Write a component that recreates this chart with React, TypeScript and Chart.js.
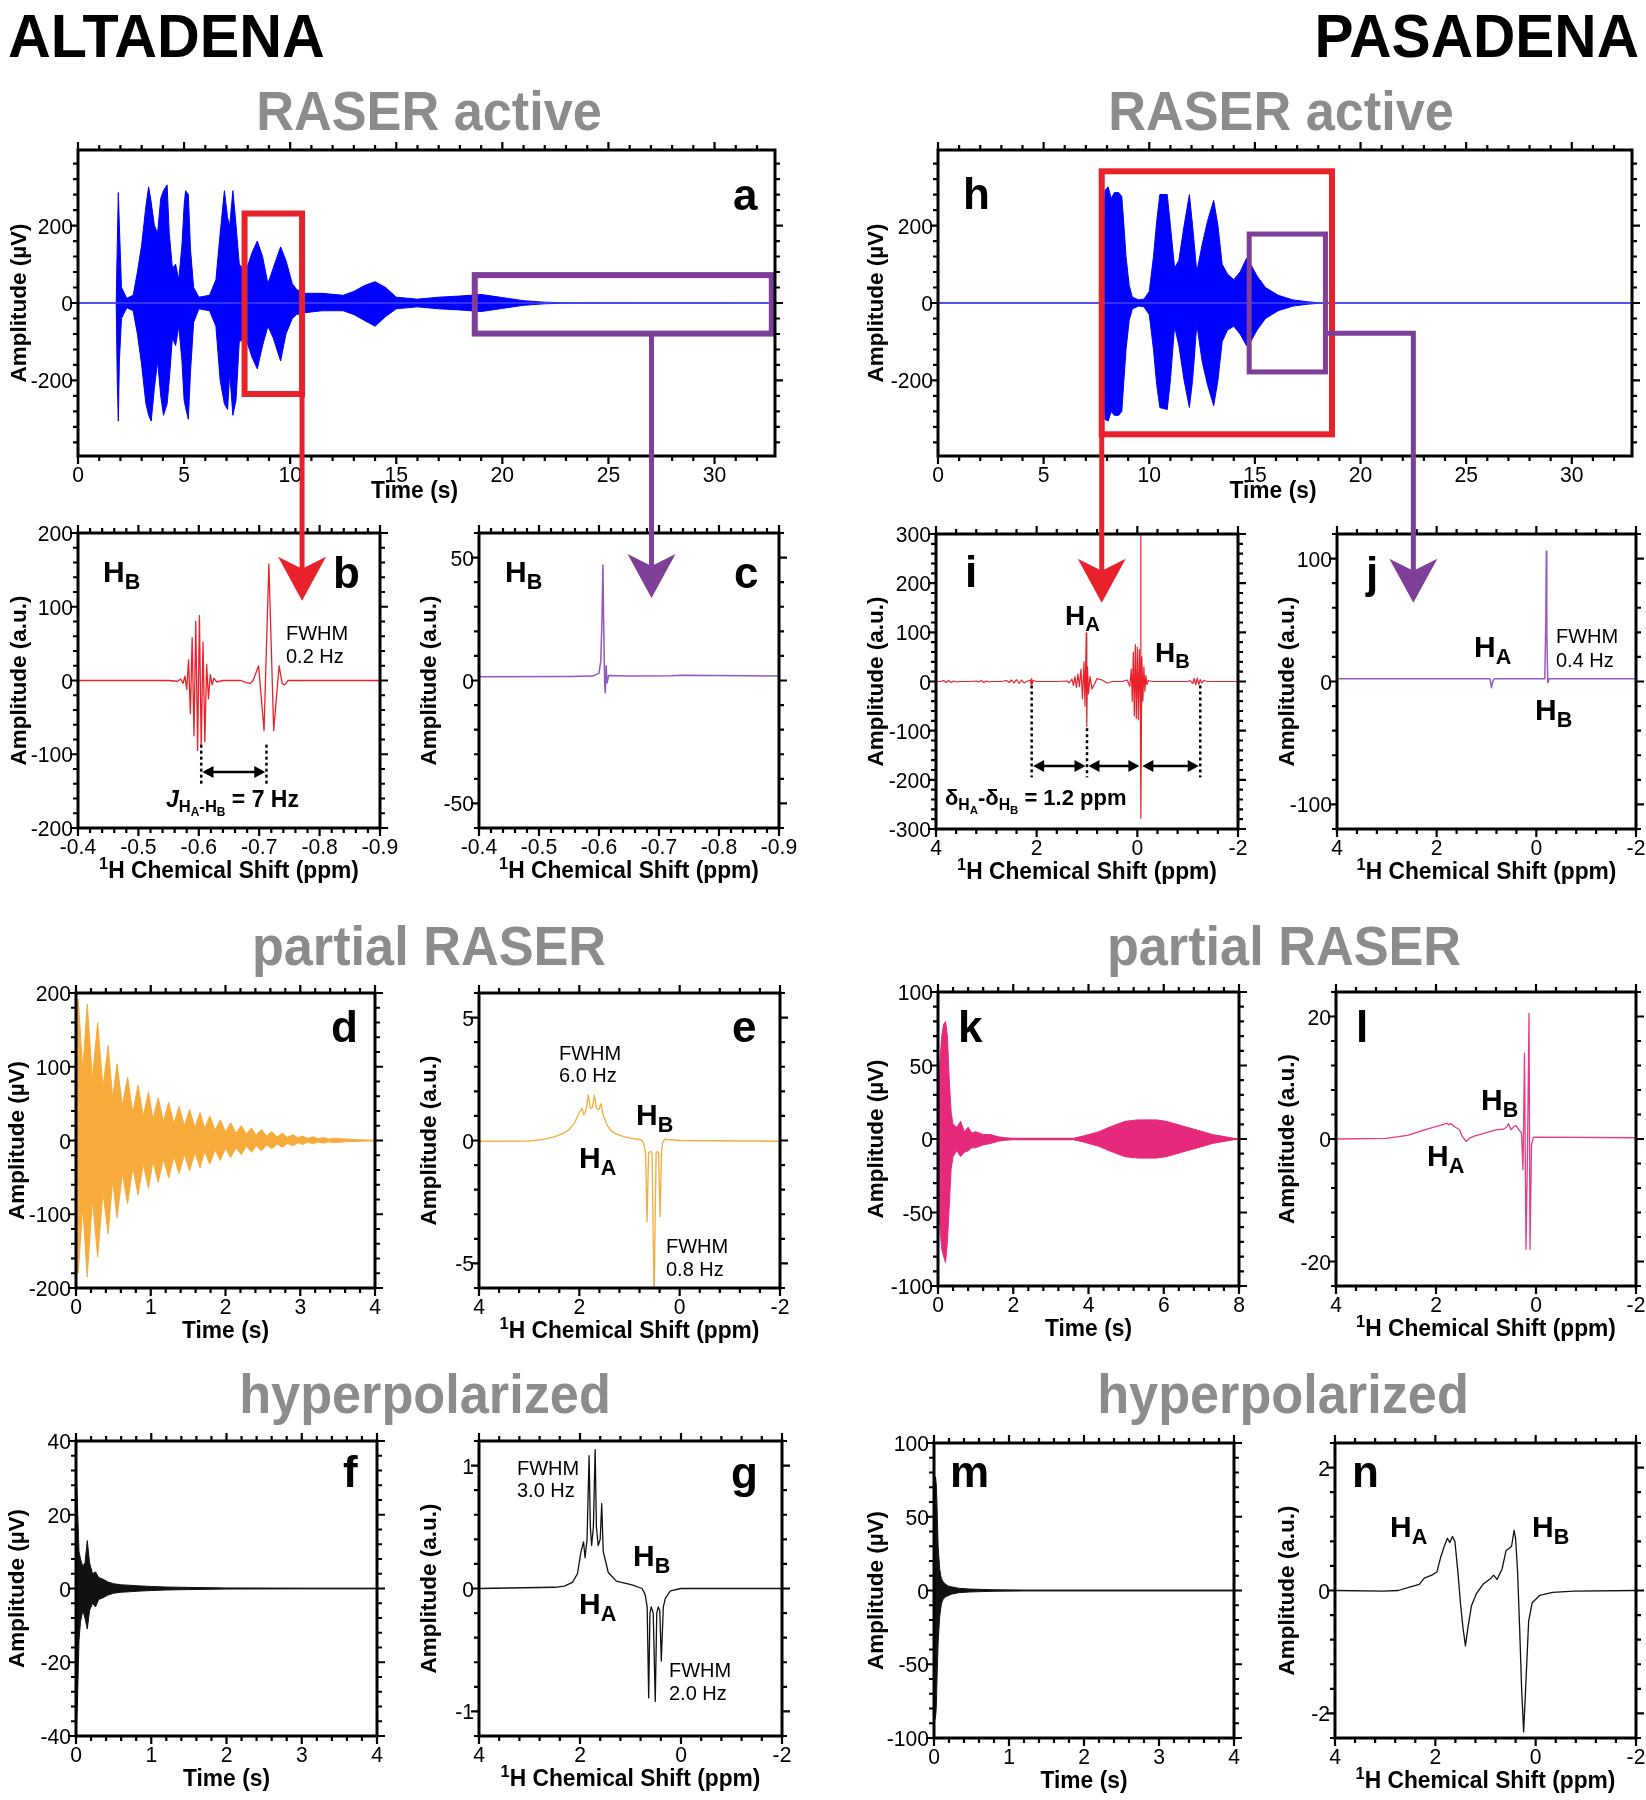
import React, { useEffect, useRef } from "react";
import { Chart, registerables } from "chart.js";

Chart.register(...registerables);

const FONT = "'Liberation Sans', Arial, Helvetica, sans-serif";
const RED = "#e8212b";
const PURPLE = "#7e3f98";
const GRAY = "#8c8c8c";
const BLUE = "#0000ff";
const ORANGE = "#f7ab3a";
const PINK = "#e6297b";
const BLACK = "#111111";

// ---------------- DATA ----------------
// panel a : RASER signal envelope (Altadena), time (s) / amplitude (uV)
const aTime = [0, 1.8, 1.85, 1.9, 1.95, 2.05, 2.3, 2.6, 2.8, 3.0, 3.2, 3.33, 3.45, 3.6, 3.75, 3.9, 4.03, 4.2, 4.3, 4.45, 4.6, 4.75, 4.9, 5.0, 5.07, 5.2, 5.3, 5.45, 5.7, 6.2, 6.5, 6.7, 6.9, 7.05, 7.15, 7.3, 7.45, 7.6, 7.9, 8.2, 8.45, 8.7, 8.95, 9.2, 9.55, 9.8, 10.1, 10.3, 10.7, 11.5, 12.5, 13.0, 13.5, 14.0, 14.5, 15.0, 16.0, 17.0, 18.0, 19.0, 20.0, 21.0, 22.0, 23.0, 32.85];
const aUpper = [0, 0, 150, 285, 200, 40, 12, 20, 80, 150, 250, 300, 260, 200, 180, 270, 290, 305, 180, 90, 100, 60, 150, 250, 290, 280, 140, 40, 15, 20, 60, 180, 290, 220, 200, 290, 200, 100, 80, 130, 160, 120, 50, 90, 145, 110, 50, 35, 25, 25, 20, 30, 45, 55, 40, 15, 10, 15, 18, 22, 14, 6, 2, 0.5, 0];
const aLower = [0, 0, -200, -305, -150, -40, -12, -20, -80, -160, -260, -290, -305, -220, -150, -240, -290, -260, -200, -90, -110, -60, -150, -250, -270, -300, -180, -50, -15, -20, -60, -200, -260, -275, -180, -290, -250, -100, -90, -140, -170, -110, -60, -90, -150, -80, -40, -30, -25, -20, -20, -30, -45, -60, -35, -15, -10, -15, -18, -22, -14, -6, -2, -0.5, 0];
const aXTicks = [0, 5, 10, 15, 20, 25, 30];
const aYTicks = [-200, 0, 200];

// panel h : RASER signal envelope (Pasadena)
const hTime = [0, 7.8, 7.85, 7.9, 8.05, 8.2, 8.35, 8.55, 8.7, 8.8, 8.9, 9.05, 9.2, 9.5, 9.75, 10.0, 10.2, 10.35, 10.5, 10.85, 11.0, 11.2, 11.4, 11.65, 11.9, 12.05, 12.25, 12.5, 12.75, 13.05, 13.25, 13.45, 13.7, 14.0, 14.3, 14.6, 14.8, 15.1, 15.5, 16.1, 16.8, 17.5, 18.0, 18.4, 32.85];
const hUpper = [0, 0, 200, 290, 300, 270, 285, 285, 275, 200, 120, 45, 15, 8, 10, 30, 120, 210, 280, 280, 200, 90, 110, 200, 280, 200, 80, 150, 210, 265, 200, 100, 75, 60, 80, 115, 100, 70, 40, 20, 8, 3, 1, 0, 0];
const hLower = [0, 0, -220, -300, -305, -280, -290, -290, -280, -200, -120, -45, -15, -8, -10, -30, -120, -210, -270, -275, -200, -60, -110, -200, -270, -200, -55, -150, -210, -265, -200, -100, -70, -60, -80, -110, -100, -70, -40, -20, -8, -3, -1, 0, 0];
const hXTicks = [0, 5, 10, 15, 20, 25, 30];
const hYTicks = [-200, 0, 200];

// panel b : spectrum (ppm / a.u.)
const bShift = [-0.40, -0.55, -0.565, -0.570, -0.574, -0.577, -0.580, -0.583, -0.586, -0.589, -0.592, -0.595, -0.598, -0.601, -0.604, -0.607, -0.610, -0.613, -0.616, -0.619, -0.622, -0.625, -0.630, -0.640, -0.670, -0.678, -0.685, -0.690, -0.699, -0.708, -0.716, -0.724, -0.733, -0.738, -0.742, -0.748, -0.90];
const bAmp = [0, 0, -1, 2, -4, 6, -12, 28, -45, 58, -75, 80, -95, 88, -90, 52, -83, 22, -25, 8, -6, 3, -2, 0, 0, -3, -4, 0, 20, -68, 158, -68, 20, -4, -6, 0, 0];
const bXTicks = [-0.4, -0.5, -0.6, -0.7, -0.8, -0.9];
const bYTicks = [-200, -100, 0, 100, 200];

// panel c
const cShift = [-0.4, -0.55, -0.59, -0.600, -0.603, -0.605, -0.6065, -0.608, -0.6095, -0.6105, -0.612, -0.6135, -0.616, -0.65, -0.72, -0.74, -0.9];
const cAmp = [1.5, 1.6, 1.8, 3, 8, 25, 47, 20, -2, -5, 6, -1, 2, 1.8, 1.9, 2.1, 1.8];
const cXTicks = [-0.4, -0.5, -0.6, -0.7, -0.8, -0.9];
const cYTicks = [-50, 0, 50];

// panel i
const iShift = [4.0, 3.9, 3.85, 3.80, 3.75, 3.70, 3.65, 3.60, 3.5, 3.3, 3.2, 3.15, 3.1, 3.05, 3.0, 2.95, 2.9, 2.7, 2.6, 2.55, 2.5, 2.45, 2.4, 2.35, 2.3, 2.25, 2.2, 2.13, 2.11, 2.10, 2.09, 2.07, 2.0, 1.6, 1.4, 1.35, 1.3, 1.27, 1.24, 1.21, 1.18, 1.15, 1.12, 1.09, 1.06, 1.04, 1.015, 1.005, 0.99, 0.97, 0.94, 0.9, 0.85, 0.8, 0.7, 0.6, 0.5, 0.3, 0.2, 0.15, 0.12, 0.10, 0.08, 0.06, 0.04, 0.02, 0.0, -0.02, -0.04, -0.06, -0.068, -0.072, -0.09, -0.11, -0.13, -0.15, -0.17, -0.19, -0.22, -0.3, -1.0, -1.05, -1.1, -1.13, -1.16, -1.19, -1.22, -1.25, -1.28, -1.32, -1.4, -2.0];
const iAmp = [0, 0, 2, -2, 2, -2, 1, -1, 0, 0, 1, -1, 2, -2, 1, -1, 0, 0, 2, -2, 3, -3, 4, -4, 3, -3, 0, 3, -6, 6, -5, 2, 0, 0, 1, -3, 5, -8, 10, -12, 15, -10, 25, -35, 40, -50, 99, -92, 30, -25, 10, -15, -5, 6, 3, -3, 0, 0, 3, -10, 25, -40, 60, -70, 75, -75, 70, -78, 65, -60, 320, -278, 50, -40, 30, -20, 12, -6, 2, 0, 0, 2, -4, 6, -7, 7, -6, 4, -3, 2, 0, 0];
const iXTicks = [4, 2, 0, -2];
const iYTicks = [-300, -200, -100, 0, 100, 200, 300];

// panel j
const jShift = [4, 1.0, 0.93, 0.90, 0.88, 0.85, 0.3, -0.17, -0.19, -0.2, -0.21, -0.23, -0.26, -2];
const jAmp = [2.2, 2.3, 2.2, -5, -1, 2.2, 2.3, 2.3, 50, 106, 40, -1, 2.3, 2.2];
const jXTicks = [4, 2, 0, -2];
const jYTicks = [-100, 0, 100];

// panel d : partial RASER FID envelope (Altadena)
const dTime = [0, 0.03, 0.09, 0.15, 0.22, 0.29, 0.36, 0.43, 0.49, 0.55, 0.62, 0.69, 0.76, 0.83, 0.90, 0.97, 1.03, 1.10, 1.17, 1.24, 1.31, 1.38, 1.45, 1.52, 1.59, 1.66, 1.72, 1.79, 1.86, 1.93, 2.00, 2.07, 2.14, 2.21, 2.28, 2.35, 2.41, 2.48, 2.55, 2.62, 2.69, 2.76, 2.83, 2.90, 2.97, 3.03, 3.10, 3.17, 3.24, 3.31, 3.38, 3.45, 3.6, 3.8, 4.0];
const dUpper = [170, 192, 95, 185, 85, 160, 72, 129, 58, 104, 47, 86, 38, 75, 33, 66, 29, 58, 26, 52, 23, 46, 20, 42, 18, 38, 16, 33, 14, 28, 12, 24, 10, 20, 9, 17, 7, 15, 6, 12, 5, 10, 4, 8, 3.5, 6, 3, 5, 2.5, 4, 2, 3, 2, 1, 0.5];
const dLower = [-160, -180, -90, -185, -80, -158, -70, -127, -55, -105, -45, -86, -37, -74, -32, -65, -28, -57, -25, -51, -22, -45, -19, -41, -17, -37, -15, -32, -13, -27, -11, -23, -10, -19, -8, -16, -7, -14, -6, -11, -5, -9, -4, -7, -3, -5.5, -2.5, -4.5, -2, -3.5, -1.8, -2.8, -1.8, -1, -0.5];
const dXTicks = [0, 1, 2, 3, 4];
const dYTicks = [-200, -100, 0, 100, 200];

// panel e
const eShift = [4, 3.0, 2.72, 2.5, 2.31, 2.2, 2.1, 2.0, 1.95, 1.91, 1.87, 1.82, 1.78, 1.74, 1.70, 1.66, 1.61, 1.57, 1.52, 1.44, 1.36, 1.28, 1.1, 0.98, 0.77, 0.72, 0.68, 0.65, 0.62, 0.58, 0.55, 0.51, 0.47, 0.44, 0.42, 0.39, 0.36, 0.34, 0.30, 0, -2];
const eAmp = [-0.03, -0.02, 0.05, 0.15, 0.3, 0.45, 0.7, 1.15, 1.31, 1.05, 1.2, 1.85, 1.3, 1.35, 1.85, 1.3, 1.25, 1.5, 1.0, 0.6, 0.38, 0.28, 0.15, 0.1, 0.03, -0.1, -0.5, -3.3, -0.5, -0.45, -0.5, -6.5, -0.5, -0.45, -0.5, -3.1, -0.4, -0.1, 0.05, 0, -0.03];
const eXTicks = [4, 2, 0, -2];
const eYTicks = [-5, 0, 5];

// panel k
const kTime = [0, 0.02, 0.05, 0.1, 0.15, 0.2, 0.25, 0.3, 0.35, 0.4, 0.5, 0.6, 0.7, 0.8, 0.9, 1.0, 1.2, 1.4, 1.6, 1.8, 2.0, 3.6, 3.86, 4.28, 4.55, 4.97, 5.31, 5.8, 6.07, 6.48, 6.9, 7.3, 7.86, 8];
const kUpper = [10, 35, 52, 70, 78, 80, 70, 40, 18, 10, 8, 12, 5, 8, 4, 5, 3, 3, 1.5, 0.8, 0.5, 0.5, 2, 5, 8, 12, 13, 13, 12, 9, 6, 3, 0.5, 0];
const kLower = [-10, -35, -60, -75, -80, -84, -70, -45, -20, -12, -8, -12, -9, -8, -6, -6, -4, -3, -1.5, -0.8, -0.5, -0.5, -2, -5, -8, -12, -13, -13, -12, -9, -6, -3, -0.5, 0];
const kXTicks = [0, 2, 4, 6, 8];
const kYTicks = [-100, -50, 0, 50, 100];

// panel l
const lShift = [4, 3.0, 2.57, 2.26, 1.94, 1.85, 1.78, 1.75, 1.70, 1.63, 1.53, 1.48, 1.40, 1.32, 1.22, 1.01, 0.80, 0.65, 0.58, 0.55, 0.50, 0.45, 0.40, 0.34, 0.29, 0.26, 0.23, 0.20, 0.17, 0.14, 0.12, 0.09, 0.05, -2];
const lAmp = [0, 0.1, 0.6, 1.4, 2.2, 2.4, 2.6, 2.3, 2.5, 2.0, 1.5, 0.5, -0.4, 0.2, 0.5, 1.0, 1.5, 1.6, 2.0, 2.5, 1.5, 2.0, 2.2, 1.5, 1.0, -5, 14, -18, -2, 20.5, -18, -1, 0.3, 0.2];
const lXTicks = [4, 2, 0, -2];
const lYTicks = [-20, 0, 20];

// panel f
const fTime = [0, 0.005, 0.02, 0.04, 0.06, 0.09, 0.12, 0.15, 0.18, 0.22, 0.26, 0.30, 0.36, 0.42, 0.5, 0.6, 0.7, 0.85, 1.0, 1.2, 1.5, 2.0, 3.0, 4.0];
const fUpper = [0, 31, 22, 10, 8, 6, 7, 13, 7, 4, 4.5, 3, 2.5, 1.8, 1.3, 1.0, 0.9, 0.7, 0.55, 0.4, 0.3, 0.15, 0.1, 0.1];
const fLower = [0, -38, -30, -14, -9, -6, -8, -11, -6, -4, -5, -3, -2.5, -1.8, -1.3, -1.0, -0.9, -0.7, -0.55, -0.4, -0.3, -0.15, -0.1, -0.1];
const fXTicks = [0, 1, 2, 3, 4];
const fYTicks = [-40, -20, 0, 20, 40];

// panel g
const gShift = [4, 2.5, 2.31, 2.15, 2.05, 1.98, 1.93, 1.90, 1.86, 1.82, 1.795, 1.77, 1.735, 1.70, 1.675, 1.64, 1.60, 1.57, 1.54, 1.51, 1.44, 1.28, 0.97, 0.77, 0.71, 0.67, 0.64, 0.615, 0.59, 0.55, 0.51, 0.48, 0.45, 0.42, 0.39, 0.35, 0.31, 0.21, 0, -2];
const gAmp = [0, 0.01, 0.02, 0.05, 0.12, 0.3, 0.38, 0.25, 0.4, 1.08, 0.5, 0.35, 0.5, 1.13, 0.5, 0.35, 0.4, 0.69, 0.3, 0.25, 0.13, 0.06, 0.03, 0, -0.05, -0.15, -0.89, -0.2, -0.15, -0.2, -0.92, -0.2, -0.15, -0.18, -0.59, -0.15, -0.08, -0.02, 0, 0];
const gXTicks = [4, 2, 0, -2];
const gYTicks = [-1, 0, 1];

// panel m
const mTime = [0, 0.007, 0.02, 0.03, 0.04, 0.055, 0.075, 0.09, 0.1, 0.12, 0.16, 0.19, 0.23, 0.33, 0.47, 0.8, 1.2, 4];
const mUpper = [0, 70, 77, 72, 58, 30, 15, 10, 8, 6, 4, 3, 2.5, 1.5, 1, 0.5, 0.3, 0.3];
const mLower = [0, -88, -86, -80, -60, -35, -18, -12, -9, -6, -4, -3.5, -2.5, -1.5, -1, -0.5, -0.3, -0.3];
const mXTicks = [0, 1, 2, 3, 4];
const mYTicks = [-100, -50, 0, 50, 100];

// panel n
const nShift = [4, 3.04, 2.74, 2.53, 2.32, 2.22, 2.07, 1.97, 1.89, 1.83, 1.76, 1.71, 1.66, 1.61, 1.55, 1.50, 1.45, 1.40, 1.35, 1.28, 1.18, 1.05, 0.89, 0.84, 0.77, 0.67, 0.59, 0.54, 0.48, 0.43, 0.40, 0.36, 0.32, 0.28, 0.24, 0.20, 0.14, 0.07, -0.08, -0.34, -0.76, -2];
const nAmp = [0, -0.01, 0.0, 0.05, 0.1, 0.2, 0.25, 0.3, 0.55, 0.7, 0.85, 0.78, 0.88, 0.8, 0.3, -0.2, -0.6, -0.9, -0.6, -0.25, -0.05, 0.1, 0.2, 0.25, 0.18, 0.35, 0.65, 0.68, 0.72, 0.98, 0.85, 0.3, -0.6, -1.6, -2.3, -1.6, -0.5, -0.2, -0.08, -0.03, -0.01, 0];
const nXTicks = [4, 2, 0, -2];
const nYTicks = [-2, 0, 2];

// ---------------- LAYOUT / STYLE ----------------
const SHIFT_TITLE = "^{1}H Chemical Shift (ppm)";
const TIME_TITLE = "Time (s)";
const UV = "Amplitude (µV)";
const AU = "Amplitude (a.u.)";

const L = (t, x, y) => ({ t, x, y, size: 44, bold: true });
const H = (t, x, y, size = 30) => ({ t, x, y, size, bold: true });
const R = (t, x, y) => ({ t, x, y, size: 20, bold: false });

const PANELS: any[] = [
  {
    id: "a", rect: [78, 150, 775, 456],
    x: { min: 0, max: 32.85, major: aXTicks, minor: 1 }, y: { min: -395, max: 395, major: aYTicks, minor: 40 },
    xTitle: TIME_TITLE, xTitleDx: -12, xTitleDy: 42, yTitle: UV, yTitleX: 26,
    series: [{ kind: "band", xs: aTime, up: aUpper, lo: aLower, color: BLUE, base: "#6464f0" }],
    boxes: [
      { x0: 7.85, x1: 10.56, y0: -235, y1: 231, color: RED, w: 6 },
      { x0: 18.7, x1: 32.7, y0: -79, y1: 72, color: PURPLE, w: 6 },
    ],
    texts: [L("a", 733, 210)],
  },
  {
    id: "h", rect: [938, 150, 1632, 456],
    x: { min: 0, max: 32.85, major: hXTicks, minor: 1 }, y: { min: -395, max: 395, major: hYTicks, minor: 40 },
    xTitle: TIME_TITLE, xTitleDx: -12, xTitleDy: 42, yTitle: UV, yTitleX: 883,
    series: [{ kind: "band", xs: hTime, up: hUpper, lo: hLower, color: BLUE, base: "#6464f0" }],
    boxes: [
      { x0: 7.75, x1: 18.65, y0: -339, y1: 340, color: RED, w: 6 },
      { x0: 14.73, x1: 18.34, y0: -178, y1: 178, color: PURPLE, w: 5 },
    ],
    texts: [L("h", 963, 209)],
  },
  {
    id: "b", rect: [78, 533, 380, 828],
    x: { min: -0.9, max: -0.4, reverse: true, major: bXTicks, minor: 0.02 }, y: { min: -200, max: 200, major: bYTicks, minor: 20 },
    xTitle: SHIFT_TITLE, yTitle: AU, yTitleX: 26,
    series: [{ kind: "line", xs: bShift, ys: bAmp, color: RED, width: 1.3 }],
    dotted: [{ x: -0.604, y0: -87, y1: -144 }, { x: -0.712, y0: -87, y1: -144 }],
    arrows: [{ x0: -0.606, x1: -0.710, y: -124 }],
    texts: [H("H_{B}", 103, 582), L("b", 333, 588), R("FWHM", 286, 640), R("0.2 Hz", 286, 663),
      { t: "|J|_{H_{A}-H_{B}} = 7 Hz", x: 166, y: 807, size: 23, bold: true }],
  },
  {
    id: "c", rect: [479, 533, 779, 828],
    x: { min: -0.9, max: -0.4, reverse: true, major: cXTicks, minor: 0.02 }, y: { min: -60, max: 60, major: cYTicks, minor: 10 },
    xTitle: SHIFT_TITLE, yTitle: AU, yTitleX: 436,
    series: [{ kind: "line", xs: cShift, ys: cAmp, color: "#9457bb", width: 1.5 }],
    texts: [H("H_{B}", 505, 582), L("c", 734, 588)],
  },
  {
    id: "i", rect: [936, 534, 1238, 829],
    x: { min: -2, max: 4, reverse: true, major: iXTicks, minor: 0.4 }, y: { min: -300, max: 300, major: iYTicks, minor: 20 },
    xTitle: SHIFT_TITLE, yTitle: AU, yTitleX: 883,
    series: [{ kind: "line", xs: iShift, ys: iAmp, color: RED, width: 1.2 }],
    dotted: [{ x: 2.1, y0: -8, y1: -195 }, { x: 1.0, y0: -95, y1: -195 }, { x: -1.25, y0: -8, y1: -195 }],
    arrows: [{ x0: 2.07, x1: 1.03, y: -172 }, { x0: 0.97, x1: -0.04, y: -172 }, { x0: -0.10, x1: -1.22, y: -172 }],
    texts: [L("i", 965, 587), H("H_{A}", 1065, 625, 28), H("H_{B}", 1155, 662, 28),
      { t: "δ_{H_{A}}-δ_{H_{B}} = 1.2 ppm", x: 945, y: 805, size: 22, bold: true }],
  },
  {
    id: "j", rect: [1337, 534, 1636, 829],
    x: { min: -2, max: 4, reverse: true, major: jXTicks, minor: 0.4 }, y: { min: -120, max: 120, major: jYTicks, minor: 20 },
    xTitle: SHIFT_TITLE, yTitle: AU, yTitleX: 1294,
    series: [{ kind: "line", xs: jShift, ys: jAmp, color: "#9a5cc2", width: 1.5 }],
    texts: [L("j", 1366, 588), H("H_{A}", 1474, 657), H("H_{B}", 1535, 720), R("FWHM", 1556, 643), R("0.4 Hz", 1556, 667)],
  },
  {
    id: "d", rect: [76, 993, 375, 1288],
    x: { min: 0, max: 4, major: dXTicks, minor: 0.2 }, y: { min: -200, max: 200, major: dYTicks, minor: 20 },
    xTitle: TIME_TITLE, yTitle: UV, yTitleX: 24,
    series: [{ kind: "band", xs: dTime, up: dUpper, lo: dLower, color: ORANGE, base: ORANGE }],
    texts: [L("d", 331, 1042)],
  },
  {
    id: "e", rect: [479, 993, 780, 1288],
    x: { min: -2, max: 4, reverse: true, major: eXTicks, minor: 0.4 }, y: { min: -6, max: 6, major: eYTicks, minor: 1 },
    xTitle: SHIFT_TITLE, yTitle: AU, yTitleX: 436,
    series: [{ kind: "line", xs: eShift, ys: eAmp, color: ORANGE, width: 1.3 }],
    texts: [L("e", 732, 1042), R("FWHM", 559, 1060), R("6.0 Hz", 559, 1082), H("H_{B}", 636, 1125), H("H_{A}", 579, 1168),
      R("FWHM", 666, 1253), R("0.8 Hz", 666, 1276)],
  },
  {
    id: "k", rect: [938, 992, 1239, 1286],
    x: { min: 0, max: 8, major: kXTicks, minor: 0.4 }, y: { min: -100, max: 100, major: kYTicks, minor: 10 },
    xTitle: TIME_TITLE, yTitle: UV, yTitleX: 883,
    series: [{ kind: "band", xs: kTime, up: kUpper, lo: kLower, color: PINK, base: PINK }],
    texts: [L("k", 958, 1042)],
  },
  {
    id: "l", rect: [1336, 992, 1636, 1286],
    x: { min: -2, max: 4, reverse: true, major: lXTicks, minor: 0.4 }, y: { min: -24, max: 24, major: lYTicks, minor: 4 },
    xTitle: SHIFT_TITLE, yTitle: AU, yTitleX: 1294,
    series: [{ kind: "line", xs: lShift, ys: lAmp, color: "#e43c82", width: 1.3 }],
    texts: [L("l", 1356, 1042), H("H_{B}", 1481, 1110), H("H_{A}", 1427, 1166)],
  },
  {
    id: "f", rect: [76, 1441, 377, 1736],
    x: { min: 0, max: 4, major: fXTicks, minor: 0.2 }, y: { min: -40, max: 40, major: fYTicks, minor: 4 },
    xTitle: TIME_TITLE, yTitle: UV, yTitleX: 24,
    series: [{ kind: "band", xs: fTime, up: fUpper, lo: fLower, color: BLACK, base: BLACK }],
    texts: [L("f", 343, 1487)],
  },
  {
    id: "g", rect: [479, 1441, 782, 1736],
    x: { min: -2, max: 4, reverse: true, major: gXTicks, minor: 0.4 }, y: { min: -1.2, max: 1.2, major: gYTicks, minor: 0.2 },
    xTitle: SHIFT_TITLE, yTitle: AU, yTitleX: 436,
    series: [{ kind: "line", xs: gShift, ys: gAmp, color: BLACK, width: 1.3 }],
    texts: [L("g", 731, 1488), R("FWHM", 517, 1475), R("3.0 Hz", 517, 1497), H("H_{B}", 633, 1566), H("H_{A}", 579, 1614),
      R("FWHM", 669, 1677), R("2.0 Hz", 669, 1700)],
  },
  {
    id: "m", rect: [934, 1443, 1234, 1738],
    x: { min: 0, max: 4, major: mXTicks, minor: 0.2 }, y: { min: -100, max: 100, major: mYTicks, minor: 10 },
    xTitle: TIME_TITLE, yTitle: UV, yTitleX: 883,
    series: [{ kind: "band", xs: mTime, up: mUpper, lo: mLower, color: BLACK, base: BLACK }],
    texts: [L("m", 950, 1487)],
  },
  {
    id: "n", rect: [1335, 1443, 1636, 1738],
    x: { min: -2, max: 4, reverse: true, major: nXTicks, minor: 0.4 }, y: { min: -2.4, max: 2.4, major: nYTicks, minor: 0.4 },
    xTitle: SHIFT_TITLE, yTitle: AU, yTitleX: 1294,
    series: [{ kind: "line", xs: nShift, ys: nAmp, color: BLACK, width: 1.3 }],
    texts: [L("n", 1352, 1487), H("H_{A}", 1390, 1537), H("H_{B}", 1532, 1537)],
  },
];

// connectors from the boxed regions to the spectra (data coords of source / target panels)
const CONNECTORS = [
  { color: RED, from: "a", fx: 10.56, fy: -235, to: "b", ty: 108 },
  { color: PURPLE, from: "a", fx: 27.03, fy: -79, to: "c", ty: 33.6 },
  { color: RED, from: "h", fx: 7.75, fy: -339, to: "i", ty: 160 },
  { color: PURPLE, from: "h", fx: 18.34, fy: -78, via: 22.5, to: "j", ty: 64 },
];

const TITLES = [
  { text: "ALTADENA", x: 8, y: 57, size: 62, color: "#000", align: "left", sx: 0.955 },
  { text: "PASADENA", x: 1639, y: 57, size: 62, color: "#000", align: "right", sx: 0.945 },
  { text: "RASER active", x: 429, y: 131, size: 55, color: GRAY, align: "center", sx: 0.95 },
  { text: "RASER active", x: 1281, y: 131, size: 55, color: GRAY, align: "center", sx: 0.95 },
  { text: "partial RASER", x: 429, y: 966, size: 55, color: GRAY, align: "center", sx: 0.95 },
  { text: "partial RASER", x: 1284, y: 966, size: 55, color: GRAY, align: "center", sx: 0.95 },
  { text: "hyperpolarized", x: 425, y: 1414, size: 55, color: GRAY, align: "center", sx: 0.95 },
  { text: "hyperpolarized", x: 1283, y: 1414, size: 55, color: GRAY, align: "center", sx: 0.95 },
];

// ---------------- helpers ----------------
function geom(p) {
  const [l, t, r, b] = p.rect;
  const cx = Math.max(0, l - 82);
  const cy = Math.max(0, t - 30);
  const cw = Math.min(1646, r + 26) - cx;
  const ch = b + 64 - cy;
  return { cx, cy, cw, ch, pad: { left: l - cx, top: t - cy, right: cx + cw - r, bottom: cy + ch - b } };
}

function parseRich(s) {
  const out = [];
  const stack = [{ lvl: 0, sup: false }];
  let it = false;
  let buf = "";
  const cur = () => stack[stack.length - 1];
  const flush = () => {
    if (buf) { out.push({ t: buf, lvl: cur().lvl, sup: cur().sup, it }); buf = ""; }
  };
  for (let i = 0; i < s.length; i++) {
    const ch = s[i];
    if ((ch === "_" || ch === "^") && s[i + 1] === "{") { flush(); stack.push({ lvl: cur().lvl + 1, sup: ch === "^" }); i++; }
    else if (ch === "}" && stack.length > 1) { flush(); stack.pop(); }
    else if (ch === "|") { flush(); it = !it; }
    else buf += ch;
  }
  flush();
  return out;
}

function drawRich(ctx, s, x, y, o) {
  const segs = parseRich(s);
  const fontFor = (g) => `${g.it ? "italic " : ""}${o.bold ? "bold " : ""}${(o.size * Math.pow(0.72, g.lvl)).toFixed(1)}px ${FONT}`;
  let w = 0;
  const ws = segs.map((g) => { ctx.font = fontFor(g); const m = ctx.measureText(g.t).width; w += m; return m; });
  const sx = o.sx ?? 1;
  ctx.save();
  ctx.translate(x, y);
  if (o.rot) ctx.rotate(o.rot);
  ctx.scale(sx, 1);
  let cx = o.align === "center" ? -w / 2 : o.align === "right" ? -w : 0;
  ctx.fillStyle = o.color ?? "#000";
  ctx.textBaseline = "alphabetic";
  ctx.textAlign = "left";
  segs.forEach((g, k) => {
    ctx.font = fontFor(g);
    const dy = g.lvl === 0 ? 0 : g.sup ? -0.38 * o.size : g.lvl === 1 ? 0.22 * o.size : 0.4 * o.size;
    ctx.fillText(g.t, cx, dy);
    cx += ws[k];
  });
  ctx.restore();
}

function tickVals(ax) {
  const out = [];
  const lo = Math.min(ax.min, ax.max), hi = Math.max(ax.min, ax.max);
  const k0 = Math.ceil(lo / ax.minor - 1e-6), k1 = Math.floor(hi / ax.minor + 1e-6);
  for (let k = k0; k <= k1; k++) out.push(k * ax.minor);
  return out;
}

function drawDoubleArrow(ctx, x0, x1, y) {
  const dir = x1 > x0 ? 1 : -1;
  const hl = 11, hw = 6;
  ctx.strokeStyle = "#000"; ctx.fillStyle = "#000"; ctx.lineWidth = 2.6;
  ctx.beginPath(); ctx.moveTo(x0 + dir * hl * 0.8, y); ctx.lineTo(x1 - dir * hl * 0.8, y); ctx.stroke();
  ctx.beginPath(); ctx.moveTo(x0, y); ctx.lineTo(x0 + dir * hl, y - hw); ctx.lineTo(x0 + dir * hl, y + hw); ctx.closePath(); ctx.fill();
  ctx.beginPath(); ctx.moveTo(x1, y); ctx.lineTo(x1 - dir * hl, y - hw); ctx.lineTo(x1 - dir * hl, y + hw); ctx.closePath(); ctx.fill();
}

function framePlugin(p, g) {
  return {
    id: "frame_" + p.id,
    afterDraw(chart) {
      const ctx = chart.ctx;
      const { left, right, top, bottom } = chart.chartArea;
      const xs = chart.scales.x, ys = chart.scales.y;
      const X = (v) => xs.getPixelForValue(v);
      const Y = (v) => ys.getPixelForValue(v);
      ctx.save();
      (p.boxes || []).forEach((bx) => {
        ctx.strokeStyle = bx.color; ctx.lineWidth = bx.w; ctx.lineJoin = "miter";
        const x0 = X(bx.x0), x1 = X(bx.x1), y0 = Y(bx.y0), y1 = Y(bx.y1);
        ctx.strokeRect(Math.min(x0, x1), Math.min(y0, y1), Math.abs(x1 - x0), Math.abs(y1 - y0));
      });
      (p.dotted || []).forEach((d) => {
        ctx.strokeStyle = "#000"; ctx.lineWidth = 2.5; ctx.setLineDash([3, 3]);
        ctx.beginPath(); ctx.moveTo(X(d.x), Y(d.y0)); ctx.lineTo(X(d.x), Y(d.y1)); ctx.stroke();
        ctx.setLineDash([]);
      });
      (p.arrows || []).forEach((a) => drawDoubleArrow(ctx, X(a.x0), X(a.x1), Y(a.y)));

      // outward ticks on all four sides
      ctx.strokeStyle = "#000"; ctx.lineWidth = 2.2; ctx.lineCap = "butt";
      ctx.beginPath();
      const inX = (x) => x >= left - 0.6 && x <= right + 0.6;
      const inY = (y) => y >= top - 0.6 && y <= bottom + 0.6;
      tickVals(p.x).forEach((v) => { const x = X(v); if (!inX(x)) return; ctx.moveTo(x, bottom); ctx.lineTo(x, bottom + 5); ctx.moveTo(x, top); ctx.lineTo(x, top - 5); });
      p.x.major.forEach((v) => { const x = X(v); if (!inX(x)) return; ctx.moveTo(x, bottom); ctx.lineTo(x, bottom + 8); ctx.moveTo(x, top); ctx.lineTo(x, top - 8); });
      tickVals(p.y).forEach((v) => { const y = Y(v); if (!inY(y)) return; ctx.moveTo(left, y); ctx.lineTo(left - 5, y); ctx.moveTo(right, y); ctx.lineTo(right + 5, y); });
      p.y.major.forEach((v) => { const y = Y(v); if (!inY(y)) return; ctx.moveTo(left, y); ctx.lineTo(left - 8, y); ctx.moveTo(right, y); ctx.lineTo(right + 8, y); });
      ctx.stroke();
      ctx.lineWidth = 3;
      ctx.strokeRect(left, top, right - left, bottom - top);

      // tick labels
      p.x.major.forEach((v) => drawRich(ctx, String(v), X(v), bottom + 26, { size: 22, align: "center", sx: 0.96 }));
      p.y.major.forEach((v) => drawRich(ctx, String(v), left - 5, Y(v) + 8, { size: 22, align: "right", sx: 0.96 }));

      // axis titles
      drawRich(ctx, p.xTitle, (left + right) / 2 + (p.xTitleDx || 0), bottom + (p.xTitleDy || 50), { size: 23.5, bold: true, align: "center", sx: 0.97 });
      drawRich(ctx, p.yTitle, p.yTitleX - g.cx, (top + bottom) / 2, { size: 22.5, bold: true, align: "center", rot: -Math.PI / 2 });

      // annotations
      (p.texts || []).forEach((t) => drawRich(ctx, t.t, t.x - g.cx, t.y - g.cy, { size: t.size, bold: t.bold, align: "left", sx: t.sx ?? 1 }));
      ctx.restore();
    },
  };
}

function buildDatasets(p) {
  const ds = [];
  p.series.forEach((s) => {
    if (s.kind === "band") {
      const n = s.xs.length;
      ds.push({ data: [{ x: s.xs[0], y: 0 }, { x: s.xs[n - 1], y: 0 }], borderColor: s.base, borderWidth: 1.2, pointRadius: 0, fill: false });
      ds.push({ data: s.xs.map((x, i) => ({ x, y: s.up[i] })), borderColor: s.color, borderWidth: 1, pointRadius: 0, fill: false, borderJoinStyle: "round" });
      ds.push({ data: s.xs.map((x, i) => ({ x, y: s.lo[i] })), borderColor: s.color, backgroundColor: s.color, borderWidth: 1, pointRadius: 0, fill: "-1", borderJoinStyle: "round" });
    } else {
      ds.push({ data: s.xs.map((x, i) => ({ x, y: s.ys[i] })), borderColor: s.color, borderWidth: s.width ?? 1.2, pointRadius: 0, fill: false, borderJoinStyle: "round" });
    }
  });
  return ds;
}

function buildChart(canvas, p) {
  const g = geom(p);
  return new Chart(canvas, {
    type: "line",
    data: { datasets: buildDatasets(p) },
    options: {
      animation: false,
      responsive: false,
      maintainAspectRatio: false,
      events: [],
      layout: { padding: g.pad },
      plugins: { legend: { display: false }, tooltip: { enabled: false } },
      elements: { point: { radius: 0 }, line: { tension: 0 } },
      scales: {
        x: { type: "linear", min: p.x.min, max: p.x.max, reverse: !!p.x.reverse, display: false },
        y: { type: "linear", min: p.y.min, max: p.y.max, display: false },
      },
    },
    plugins: [framePlugin(p, g)],
  });
}

function drawOverlay(cv, charts) {
  const ctx = cv.getContext("2d");
  ctx.clearRect(0, 0, cv.width, cv.height);
  const get = (id) => { const i = PANELS.findIndex((p) => p.id === id); return { c: charts[i], g: geom(PANELS[i]) }; };
  const PX = (id, v) => { const { c, g } = get(id); return g.cx + c.scales.x.getPixelForValue(v); };
  const PY = (id, v) => { const { c, g } = get(id); return g.cy + c.scales.y.getPixelForValue(v); };
  CONNECTORS.forEach((cn) => {
    const x0 = PX(cn.from, cn.fx), y0 = PY(cn.from, cn.fy);
    const tipY = PY(cn.to, cn.ty);
    let x = x0;
    ctx.strokeStyle = cn.color; ctx.fillStyle = cn.color; ctx.lineWidth = 5; ctx.lineJoin = "miter"; ctx.lineCap = "butt";
    ctx.beginPath();
    ctx.moveTo(x0, y0);
    if (cn.via != null) { x = PX(cn.from, cn.via); ctx.lineTo(x + 2.5, y0); ctx.moveTo(x, y0); }
    ctx.lineTo(x, tipY - 30);
    ctx.stroke();
    ctx.beginPath();
    ctx.moveTo(x, tipY);
    ctx.lineTo(x - 24, tipY - 44);
    ctx.lineTo(x, tipY - 32);
    ctx.lineTo(x + 24, tipY - 44);
    ctx.closePath();
    ctx.fill();
  });
}

export default function App() {
  const refs = useRef([]);
  const overlayRef = useRef(null);
  useEffect(() => {
    const charts = PANELS.map((p, i) => buildChart(refs.current[i], p));
    if (overlayRef.current) drawOverlay(overlayRef.current, charts);
    return () => charts.forEach((c) => c.destroy());
  }, []);

  return (
    <div style={{ position: "absolute", left: 0, top: 0, width: 1646, height: 1800, background: "#fff", overflow: "hidden" }}>
      {TITLES.map((t, i) => {
        const tr = t.align === "center" ? `translateX(-50%) scaleX(${t.sx})` : t.align === "right" ? `translateX(-100%) scaleX(${t.sx})` : `scaleX(${t.sx})`;
        return (
          <div key={i} style={{
            position: "absolute", left: t.x, top: t.y - 0.8465 * t.size, whiteSpace: "nowrap",
            fontFamily: FONT, fontWeight: "bold", fontSize: t.size, lineHeight: 1, color: t.color,
            transform: tr, transformOrigin: t.align === "center" ? "center" : t.align === "right" ? "right" : "left",
          }}>{t.text}</div>
        );
      })}
      {PANELS.map((p, i) => {
        const g = geom(p);
        return (
          <canvas key={p.id} ref={(el) => { refs.current[i] = el; }} width={g.cw} height={g.ch}
            style={{ position: "absolute", left: g.cx, top: g.cy, width: g.cw, height: g.ch }} />
        );
      })}
      <canvas ref={overlayRef} width={1646} height={1800} style={{ position: "absolute", left: 0, top: 0, pointerEvents: "none" }} />
    </div>
  );
}
